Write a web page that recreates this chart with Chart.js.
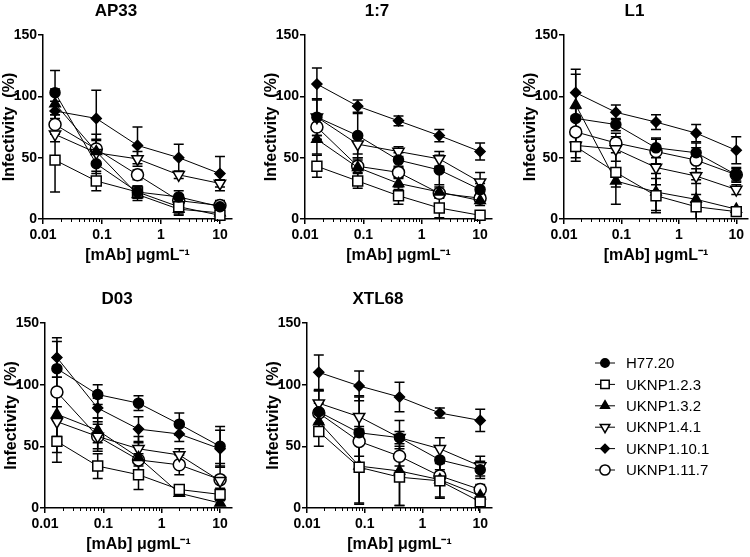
<!DOCTYPE html>
<html>
<head>
<meta charset="utf-8">
<script src="https://cdn.jsdelivr.net/npm/chart.js@4.4.0/dist/chart.umd.min.js"></script>
<style>
body{margin:0;background:#fff;width:750px;height:557px;position:relative;overflow:hidden}
canvas{position:absolute}
</style>
</head>
<body>
<script>
// mAb concentrations (ug/mL) and strains
var doses = [0.016, 0.08, 0.4, 2, 10];
var strains = ['H77.20', 'UKNP1.2.3', 'UKNP1.3.2', 'UKNP1.4.1', 'UKNP1.10.1', 'UKNP1.11.7'];
var xTicks = [0.01, 0.1, 1, 10];
var yTicks = [0, 50, 100, 150];

// rows follow strains order
var ap33Mean = [[103,45,22,18,10],[48,31,22,10,3],[94,55,20,8,5],[69,54,49,36,29],[88,82,60,50,37],[77,57,36,15,11]];
var ap33Err  = [[18,8,5,5,4],[26,8,5,6,3],[12,10,5,5,3],[6,10,6,3,3],[8,23,15,11,14],[8,12,4,4,4]];

var r17Mean = [[83,68,48,40,24],[43,31,19,9,3],[65,42,29,22,15],[83,61,55,49,30],[110,92,80,68,55],[75,43,38,21,17]];
var r17Err  = [[15,18,6,12,5],[9,6,7,8,2],[12,8,5,4,4],[15,8,4,6,8],[13,5,4,5,7],[10,5,5,3,4]];

var l1Mean = [[82,77,58,54,36],[59,38,19,10,6],[93,31,22,16,8],[60,57,42,35,24],[103,87,79,70,56],[71,62,55,48,36]];
var l1Err  = [[8,5,8,8,5],[12,26,14,10,3],[25,5,15,16,2],[10,10,14,6,4],[19,6,6,7,11],[10,8,10,10,6]];

var d03Mean = [[113,92,85,68,50],[54,34,27,15,11],[76,63,41,12,4],[70,58,48,43,22],[122,81,64,60,48],[94,58,39,35,23]];
var d03Err  = [[22,8,6,9,16],[17,10,12,3,5],[18,10,12,2,2],[25,12,10,5,14],[16,8,10,6,15],[12,10,5,8,3]];

var xtlMean = [[78,61,57,39,31],[62,33,25,22,5],[70,34,30,23,10],[85,74,57,48,34],[110,99,90,77,71],[77,54,42,26,15]];
var xtlErr  = [[17,30,14,10,7],[12,30,23,14,2],[8,30,28,14,4],[10,16,5,9,8],[14,12,12,4,9],[8,12,8,5,4]];

// marker look per strain
var markers = [
  {style:'circle', fill:'#000', r:5, rot:0},
  {style:'rect', fill:'#fff', r:7, rot:0},
  {style:'triangle', fill:'#000', r:6, rot:0},
  {style:'triangle', fill:'#fff', r:6.5, rot:180},
  {style:'rectRot', fill:'#000', r:5, rot:0},
  {style:'circle', fill:'#fff', r:6, rot:0}
];

// plot area of each panel in page pixels
var panels = [
  {title:'AP33', mean:ap33Mean, err:ap33Err, left:43, top:35, right:232, bottom:219},
  {title:'1:7', mean:r17Mean, err:r17Err, left:305, top:35, right:492, bottom:219},
  {title:'L1', mean:l1Mean, err:l1Err, left:564, top:35, right:748, bottom:219},
  {title:'D03', mean:d03Mean, err:d03Err, left:45, top:323, right:232, bottom:508},
  {title:'XTL68', mean:xtlMean, err:xtlErr, left:307, top:323, right:492, bottom:508}
];

var FONT = "'Liberation Sans', Arial, Helvetica, sans-serif";
var YW = 43, TOPH = 35, XH = 46, PADR = 14;

var errorBars = {
  id: 'errorBars',
  beforeDatasetsDraw: function(chart) {
    var ctx = chart.ctx, xs = chart.scales.x, ys = chart.scales.y;
    ctx.save();
    ctx.strokeStyle = '#000';
    ctx.lineWidth = 1.5;
    chart.data.datasets.forEach(function(ds) {
      ds.data.forEach(function(p) {
        var x = xs.getPixelForValue(p.x);
        var lo = ys.getPixelForValue(Math.max(p.y - p.e, 0));
        var hi = ys.getPixelForValue(p.y + p.e);
        ctx.beginPath();
        ctx.moveTo(x, lo); ctx.lineTo(x, hi);
        ctx.moveTo(x - 5, hi); ctx.lineTo(x + 5, hi);
        if (p.y - p.e > 0) { ctx.moveTo(x - 5, lo); ctx.lineTo(x + 5, lo); }
        ctx.stroke();
      });
    });
    ctx.restore();
  }
};

var minorTicks = {
  id: 'minorTicks',
  afterDraw: function(chart) {
    var ctx = chart.ctx, xs = chart.scales.x;
    ctx.save();
    ctx.strokeStyle = '#000';
    ctx.lineWidth = 1;
    xTicks.forEach(function(d) {
      for (var m = 2; m < 10; m++) {
        var v = d * m;
        if (v > xs.max) break;
        var px = Math.round(xs.getPixelForValue(v)) + 0.5;
        ctx.beginPath();
        ctx.moveTo(px, xs.top);
        ctx.lineTo(px, xs.top + 3);
        ctx.stroke();
      }
    });
    ctx.restore();
  }
};

function makePanel(p) {
  var cv = document.createElement('canvas');
  var w = p.right - p.left + YW + PADR;
  var h = p.bottom - p.top + TOPH + XH;
  cv.width = w; cv.height = h;
  cv.style.left = (p.left - YW) + 'px';
  cv.style.top = (p.top - TOPH) + 'px';
  document.body.appendChild(cv);

  var datasets = strains.map(function(name, i) {
    var mk = markers[i];
    return {
      label: name,
      data: doses.map(function(d, j) { return {x: d, y: p.mean[i][j], e: p.err[i][j]}; }),
      borderColor: '#000',
      borderWidth: 1,
      pointStyle: mk.style,
      pointRotation: mk.rot,
      pointRadius: mk.r,
      pointBackgroundColor: mk.fill,
      pointBorderColor: '#000',
      pointBorderWidth: 1.5,
      tension: 0,
      clip: false
    };
  });

  new Chart(cv, {
    type: 'line',
    data: {datasets: datasets},
    options: {
      responsive: false,
      animation: false,
      devicePixelRatio: 1,
      layout: {padding: {left: 0, right: PADR, top: 0, bottom: 0}},
      plugins: {
        legend: {display: false},
        tooltip: {enabled: false},
        title: {display: true, text: p.title, color: '#000',
                font: {family: FONT, size: 17, weight: 'bold'},
                padding: {top: 1, bottom: TOPH - 1 - 20.4}}
      },
      scales: {
        x: {
          type: 'logarithmic', min: 0.01, max: 16, position: 'bottom',
          afterBuildTicks: function(s) { s.ticks = xTicks.map(function(v) { return {value: v}; }); },
          afterFit: function(s) { s.height = XH; },
          grid: {display: true, drawOnChartArea: false, drawTicks: true, tickLength: 5, color: '#000', lineWidth: 1.5},
          border: {display: true, color: '#000', width: 1.5},
          ticks: {color: '#000', font: {family: FONT, size: 14, weight: 'bold'}, padding: 3,
                  maxRotation: 0, autoSkip: false, callback: function(v) { return String(v); }},
          title: {display: true, text: '[mAb] μgmL⁻¹', color: '#000',
                  font: {family: FONT, size: 16, weight: 'bold'}, padding: 0}
        },
        y: {
          min: 0, max: 150,
          afterBuildTicks: function(s) { s.ticks = yTicks.map(function(v) { return {value: v}; }); },
          afterFit: function(s) { s.width = YW; },
          grid: {display: true, drawOnChartArea: false, drawTicks: true, tickLength: 5, color: '#000', lineWidth: 1.5},
          border: {display: true, color: '#000', width: 1.5},
          ticks: {color: '#000', font: {family: FONT, size: 14, weight: 'bold'}, padding: 1},
          title: {display: true, text: 'Infectivity  (%)', color: '#000',
                  font: {family: FONT, size: 16, weight: 'bold'}, padding: 0}
        }
      }
    },
    plugins: [errorBars, minorTicks]
  });
}

panels.forEach(makePanel);

// legend
(function() {
  var cv = document.createElement('canvas');
  cv.width = 190; cv.height = 140;
  cv.style.left = '560px'; cv.style.top = '345px';
  document.body.appendChild(cv);
  var ctx = cv.getContext('2d');
  ctx.font = '15px ' + FONT;
  ctx.textBaseline = 'middle';
  strains.forEach(function(name, i) {
    var y = 18 + i * 21.4;
    var mk = markers[i];
    ctx.strokeStyle = '#000';
    ctx.lineWidth = 1;
    ctx.beginPath(); ctx.moveTo(35, y); ctx.lineTo(55, y); ctx.stroke();
    ctx.fillStyle = mk.fill;
    ctx.lineWidth = 1.5;
    Chart.helpers.drawPoint(ctx, {pointStyle: mk.style, rotation: mk.rot, radius: mk.r * 0.85, borderWidth: 1.5}, 45, y);
    ctx.fillStyle = '#000';
    ctx.fillText(name, 66, y + 1);
  });
})();
</script>
</body>
</html>
